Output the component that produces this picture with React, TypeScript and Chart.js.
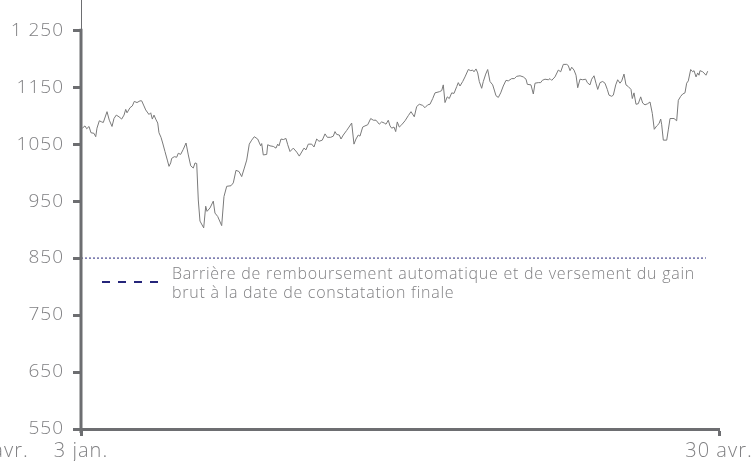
import React, { useEffect, useRef } from "react";
import { Chart, registerables } from "chart.js";

Chart.register(...registerables);

// Days since 3 Jan
const days = [
  0.24, 0.73, 1.05, 1.47, 1.83, 2.38, 2.7, 2.93, 3.36, 3.8, 4.09, 4.77, 5.19, 5.69, 6.05, 6.47, 6.97, 7.46, 7.89, 8.2,
  8.44, 8.99, 9.41, 9.77, 10.27, 10.82, 11.13, 11.55, 11.87, 12.47, 12.78, 13.08, 13.39, 13.7, 14.07, 14.3, 14.67, 14.98, 15.4, 15.83,
  16.14, 16.45, 16.63, 17.11, 17.55, 17.84, 18.28, 18.76, 19.26, 19.68, 20.12, 20.59, 20.91, 21.22, 21.51, 21.82, 22.5, 22.87, 23.11, 23.66,
  24.26, 24.57, 25.07, 25.8, 26.22, 26.72, 27.51, 27.93, 28.42, 28.97, 29.47, 29.95, 30.39, 30.86, 31.3, 31.78, 32.4, 32.95, 33.14, 33.43,
  34.06, 34.24, 34.66, 35.26, 35.76, 36.07, 36.31, 36.68, 37.1, 37.59, 37.91, 38.33, 38.93, 39.56, 40.03, 40.89, 41.26, 41.68, 42.31, 42.73,
  43.22, 43.65, 44.25, 44.75, 45.17, 45.79, 46.27, 46.58, 46.89, 47.37, 47.68, 48.1, 48.72, 49.15, 49.64, 50.06, 50.43, 50.85, 51.16, 51.66,
  52.08, 52.58, 53.13, 53.6, 54.1, 54.7, 55.14, 55.62, 55.93, 56.35, 56.67, 56.98, 57.4, 57.71, 58.0, 58.37, 58.81, 59.42, 60.02, 60.52,
  61.12, 61.56, 62.04, 62.66, 63.08, 63.58, 64.0, 64.5, 64.92, 65.71, 66.15, 66.44, 66.75, 67.17, 67.54, 67.98, 68.4, 68.9, 69.19, 69.5,
  70.0, 70.42, 71.03, 71.47, 71.83, 72.07, 72.44, 72.75, 73.04, 73.48, 73.78, 74.22, 74.58, 75.0, 75.5, 75.79, 76.1, 76.53, 76.97, 77.44,
  77.94, 78.36, 78.98, 79.46, 79.9, 80.51, 81.11, 81.61, 81.85, 82.52, 82.95, 83.26, 83.86, 84.3, 84.6, 85.09, 85.7, 86.01, 86.32, 86.92,
  87.53, 87.97, 88.45, 89.07, 89.36, 89.68, 89.99, 90.41, 90.78, 91.09, 91.51, 92.0, 92.55, 92.85, 93.34, 93.65, 94.08, 94.44, 94.76, 95.18,
  95.67, 96.09, 96.52, 96.83, 97.32, 97.62, 98.06, 98.42, 98.84, 99.16, 99.58, 99.94, 100.37, 100.86, 101.1, 101.41, 101.78, 102.2, 102.64, 103.01,
  103.43, 103.92, 104.35, 104.77, 105.13, 105.58, 106.0, 106.31, 106.49, 106.79, 107.41, 107.7, 108.02, 108.75, 109.24, 109.54, 109.98, 110.34, 110.76, 111.07,
  111.37, 111.81, 112.18, 112.42, 112.79, 113.09, 113.33, 113.51, 114.01, 114.43, 114.61, 114.93,
];

const levels = [
  1078, 1082, 1077, 1081, 1070, 1069, 1063, 1078, 1091, 1089, 1088, 1107, 1092, 1081, 1095, 1101, 1098, 1094, 1101, 1111,
  1105, 1114, 1117, 1125, 1123, 1126, 1126, 1117, 1110, 1102, 1105, 1094, 1101, 1094, 1087, 1070, 1062, 1052, 1037, 1022,
  1011, 1017, 1025, 1028, 1027, 1034, 1032, 1041, 1052, 1031, 1012, 1008, 1017, 1016, 952, 915, 903, 941, 932, 938,
  950, 929, 923, 907, 958, 976, 977, 982, 1004, 1002, 993, 1008, 1022, 1050, 1057, 1063, 1059, 1047, 1051, 1031,
  1032, 1049, 1047, 1046, 1043, 1050, 1047, 1059, 1058, 1060, 1049, 1037, 1043, 1036, 1029, 1043, 1040, 1050, 1050, 1045,
  1059, 1055, 1057, 1068, 1062, 1062, 1064, 1072, 1067, 1066, 1059, 1066, 1074, 1080, 1087, 1050, 1059, 1066, 1064, 1080,
  1082, 1084, 1095, 1092, 1092, 1085, 1089, 1087, 1085, 1092, 1082, 1078, 1080, 1072, 1089, 1080, 1084, 1091, 1100, 1107,
  1098, 1116, 1120, 1118, 1114, 1119, 1120, 1130, 1140, 1142, 1144, 1154, 1123, 1133, 1130, 1140, 1139, 1151, 1158, 1152,
  1160, 1168, 1181, 1179, 1180, 1177, 1182, 1175, 1160, 1148, 1160, 1173, 1181, 1160, 1154, 1145, 1135, 1132, 1140, 1152,
  1162, 1161, 1165, 1165, 1169, 1170, 1168, 1164, 1155, 1154, 1138, 1157, 1158, 1158, 1162, 1164, 1163, 1165, 1162, 1168,
  1180, 1177, 1190, 1190, 1188, 1179, 1185, 1180, 1171, 1149, 1164, 1163, 1164, 1158, 1154, 1164, 1170, 1157, 1146, 1158,
  1160, 1157, 1146, 1136, 1134, 1136, 1154, 1163, 1157, 1161, 1173, 1154, 1151, 1146, 1130, 1140, 1120, 1121, 1133, 1122,
  1119, 1121, 1124, 1104, 1076, 1082, 1086, 1094, 1084, 1057, 1057, 1075, 1095, 1095, 1091, 1127, 1134, 1138, 1140, 1157,
  1161, 1181, 1177, 1179, 1168, 1175, 1171, 1179, 1177, 1173, 1171, 1178,
];

const yTicks = [550, 650, 750, 850, 950, 1050, 1150, 1250];
const yTickLabels = ["550", "650", "750", "850", "950", "1050", "1150", "1 250"];
const xTicks = [0, 117];
const xTickLabels = ["3 jan.", "30 avr."];
const strayLabel = "30 avr.";

const barrierLevel = 850;
const barrierDays = [0, 114.6];
const legendLines = [
  "Barrière de remboursement automatique et de versement du gain",
  "brut à la date de constatation finale",
];

const AXIS = "#6d6e71";
const LINE = "#7a7a7a";
const NAVY = "#25257a";
const TEXT = "#808083";
const FONT = "'Open Sans', 'Noto Sans', sans-serif";

const spacing = {
  id: "spacing",
  beforeDraw(chart: any) {
    (chart.ctx as any).letterSpacing = "1px";
  },
};

const decor = {
  id: "decor",
  afterDraw(chart: any) {
    const { ctx, chartArea } = chart;
    const y = chart.scales.y;
    const x = chart.scales.x;
    ctx.save();
    // thick part of the y axis
    ctx.strokeStyle = AXIS;
    ctx.lineWidth = 3;
    ctx.beginPath();
    ctx.moveTo(chartArea.left, y.getPixelForValue(yTicks[yTicks.length - 1]) - 1.5);
    ctx.lineTo(chartArea.left, chartArea.bottom + 4);
    ctx.stroke();

    // legend
    ctx.strokeStyle = NAVY;
    ctx.lineWidth = 2;
    ctx.setLineDash([8, 8]);
    ctx.beginPath();
    ctx.moveTo(102, 282);
    ctx.lineTo(158, 282);
    ctx.stroke();
    ctx.setLineDash([]);
    ctx.fillStyle = TEXT;
    (ctx as any).letterSpacing = "0.75px";
    ctx.font = `300 16px ${FONT}`;
    ctx.textAlign = "left";
    ctx.textBaseline = "middle";
    ctx.fillText(legendLines[0], 172, 274);
    ctx.fillText(legendLines[1], 172, 293);

    // clipped label at far left
    (ctx as any).letterSpacing = "1px";
    ctx.font = `300 20px ${FONT}`;
    ctx.textAlign = "center";
    ctx.textBaseline = "middle";
    ctx.fillText(strayLabel, x.getPixelForValue(xTicks[0]) - 86, 451);
    ctx.restore();
  },
};

export default function App() {
  const ref = useRef<HTMLCanvasElement | null>(null);
  useEffect(() => {
    document.body.style.margin = "0";
    const canvas = ref.current;
    if (!canvas) return;
    const chart = new Chart(canvas, {
      type: "line",
      data: {
        datasets: [
          {
            data: days.map((d, i) => ({ x: d, y: levels[i] })),
            borderColor: LINE,
            borderWidth: 1,
            pointRadius: 0,
            tension: 0,
            fill: false,
          },
          {
            data: barrierDays.map((d) => ({ x: d, y: barrierLevel })),
            borderColor: NAVY,
            borderWidth: 1,
            borderDash: [2, 2],
            pointRadius: 0,
            fill: false,
          },
        ],
      },
      options: {
        animation: false,
        responsive: true,
        maintainAspectRatio: false,
        layout: { padding: { left: 0, right: 36, top: 0, bottom: 0 } },
        plugins: { legend: { display: false }, tooltip: { enabled: false } },
        scales: {
          x: {
            type: "linear",
            min: 0,
            max: 117,
            afterBuildTicks: (s: any) => {
              s.ticks = xTicks.map((v) => ({ value: v }));
            },
            afterFit: (s: any) => {
              s.height = 32;
              s.paddingLeft = 0;
              s.paddingRight = 0;
            },
            ticks: {
              autoSkip: false,
              maxRotation: 0,
              padding: 3,
              color: TEXT,
              font: { family: FONT, size: 20, weight: 300 },
              callback: (v: any) => xTickLabels[xTicks.indexOf(v)] ?? "",
            },
            grid: {
              display: true,
              drawOnChartArea: false,
              drawTicks: true,
              tickLength: 7,
              tickWidth: 3,
              tickColor: AXIS,
              color: AXIS,
            },
            border: { display: true, color: AXIS, width: 3 },
          },
          y: {
            min: 550,
            max: 1303,
            afterBuildTicks: (s: any) => {
              s.ticks = yTicks.map((v) => ({ value: v }));
            },
            afterFit: (s: any) => {
              s.width = 81;
              s.paddingTop = 0;
              s.paddingBottom = 0;
            },
            ticks: {
              autoSkip: false,
              padding: 9,
              color: TEXT,
              font: { family: FONT, size: 19, weight: 300 },
              callback: (v: any) => yTickLabels[yTicks.indexOf(v)] ?? "",
            },
            grid: {
              display: true,
              drawOnChartArea: false,
              drawTicks: true,
              tickLength: 8,
              tickWidth: 3,
              tickColor: AXIS,
              color: AXIS,
            },
            border: { display: true, color: AXIS, width: 1 },
          },
        },
      },
      plugins: [spacing, decor],
    });
    return () => chart.destroy();
  }, []);

  return (
    <div style={{ position: "relative", width: 755, height: 461 }}>
      <canvas ref={ref} />
    </div>
  );
}
